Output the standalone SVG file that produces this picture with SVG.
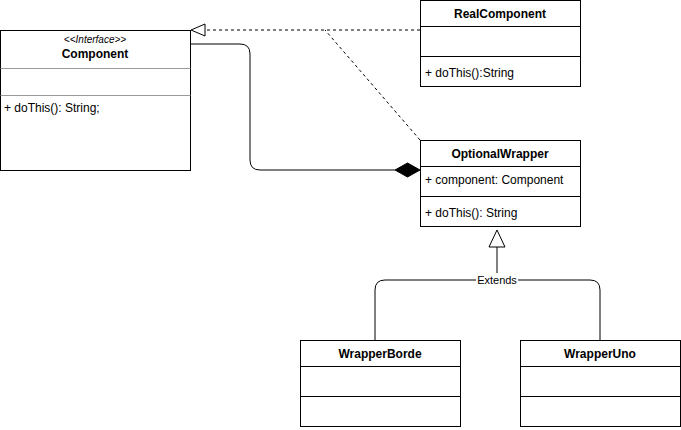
<svg xmlns="http://www.w3.org/2000/svg" width="681" height="430" viewBox="0 0 681 430">
<style>
.box{fill:#fff;stroke:#000;stroke-width:1}
.div{stroke:#000;stroke-width:1}
.gdiv{stroke:#999;stroke-width:1}
.t{font-family:"Liberation Sans",Arial,sans-serif;font-size:12px;fill:#000}
.b{font-weight:bold;text-anchor:middle}
.st{font-size:10px;font-style:italic;text-anchor:middle}
.ln{fill:none;stroke:#000;stroke-width:1}
.dash{fill:none;stroke:#000;stroke-width:1;stroke-dasharray:3,3}
</style>
<rect width="681" height="430" fill="#fff"/>
<g id="connectors">
<path class="dash" d="M420,30 H205"/>
<path class="dash" d="M420,140 L325,30"/>
<polygon points="191,30 205,24 205,36" fill="#fff" stroke="#000"/>
<path class="ln" d="M190,44 H240 Q250,44 250,54 V160 Q250,170 260,170 H395"/>
<polygon points="420,170 407.5,163 395,170 407.5,177" fill="#000" stroke="#000"/>
<path class="ln" d="M497,247 V280"/>
<polygon points="497,230 489,247 505,247" fill="#fff" stroke="#000"/>
<path class="ln" d="M375,340 V290 Q375,280 385,280 H590 Q600,280 600,290 V340"/>
<rect x="476" y="273" width="42" height="13" fill="#fff"/>
<text class="t" x="497" y="284" text-anchor="middle" font-size="11px" style="font-size:11px">Extends</text>
</g>
<g id="Component">
<rect class="box" x="0.5" y="30.5" width="190" height="140"/>
<text class="t st" x="95" y="43">&lt;&lt;Interface&gt;&gt;</text>
<text class="t b" x="95" y="58">Component</text>
<line class="gdiv" x1="0.5" y1="68.5" x2="190.5" y2="68.5"/>
<line class="gdiv" x1="0.5" y1="95.5" x2="190.5" y2="95.5"/>
<text class="t" x="4" y="112">+ doThis(): String;</text>
</g>
<g id="RealComponent">
<rect class="box" x="420.5" y="0.5" width="160" height="86"/>
<text class="t b" x="500" y="18">RealComponent</text>
<line class="div" x1="420.5" y1="26.5" x2="580.5" y2="26.5"/>
<line class="div" x1="420.5" y1="56.5" x2="580.5" y2="56.5"/>
<text class="t" x="425" y="77">+ doThis():String</text>
</g>
<g id="OptionalWrapper">
<rect class="box" x="420.5" y="140.5" width="160" height="86"/>
<text class="t b" x="500" y="158">OptionalWrapper</text>
<line class="div" x1="420.5" y1="166.5" x2="580.5" y2="166.5"/>
<text class="t" x="425" y="184">+ component: Component</text>
<line class="div" x1="420.5" y1="196.5" x2="580.5" y2="196.5"/>
<text class="t" x="425" y="217">+ doThis(): String</text>
</g>
<g id="WrapperBorde">
<rect class="box" x="300.5" y="340.5" width="160" height="86"/>
<text class="t b" x="380" y="358">WrapperBorde</text>
<line class="div" x1="300.5" y1="366.5" x2="460.5" y2="366.5"/>
<line class="div" x1="300.5" y1="396.5" x2="460.5" y2="396.5"/>
</g>
<g id="WrapperUno">
<rect class="box" x="520.5" y="340.5" width="160" height="86"/>
<text class="t b" x="600" y="358">WrapperUno</text>
<line class="div" x1="520.5" y1="366.5" x2="680.5" y2="366.5"/>
<line class="div" x1="520.5" y1="396.5" x2="680.5" y2="396.5"/>
</g>
</svg>
